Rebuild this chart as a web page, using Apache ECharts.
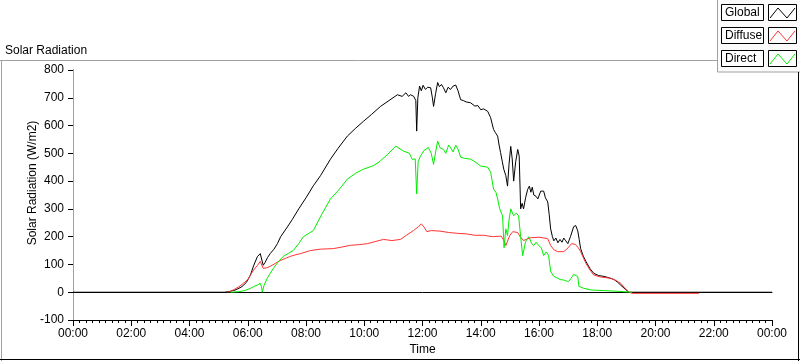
<!DOCTYPE html>
<html lang="en">
<head>
    <meta charset="UTF-8">
    <title>Solar Radiation</title>
    <script src="https://cdn.jsdelivr.net/npm/echarts@6/dist/echarts.min.js"></script>
    <style>
        body { margin: 0; background: #fff; overflow: hidden; }
    </style>
</head>
<body>
    <div style="width: 800px; height: 361px" id="container"></div>
<script>
    var dom = document.getElementById("container");
    var myChart = echarts.init(dom);
    let font = 'Liberation Sans';

    // time in hours, value in W/m2
    let seriesNames = ['Global', 'Diffuse', 'Direct'];
    let seriesColors = ['#000000', '#ff3333', '#00ee00'];
    let xTicks = [0, 2, 4, 6, 8, 10, 12, 14, 16, 18, 20, 22, 24];
    let yTicks = [-100, 0, 100, 200, 300, 400, 500, 600, 700, 800];

    let globalData = [[0,0],[5.2,0],[5.4,3],[5.6,9],[5.8,20],[5.95,35],[6.09,61],[6.2,95],[6.33,128],[6.43,139],[6.48,135],[6.53,97],[6.6,108],[6.68,125],[6.77,139],[6.9,155],[7.02,175],[7.13,200],[7.36,235],[7.53,262],[7.75,300],[8.0,340],[8.25,383],[8.5,420],[8.84,479],[9.1,518],[9.42,562],[9.7,590],[9.97,615],[10.25,640],[10.56,669],[10.85,690],[11.14,711],[11.3,705],[11.43,718],[11.52,705],[11.59,711],[11.7,705],[11.77,690],[11.8,580],[11.84,700],[11.9,742],[11.96,725],[12.02,745],[12.1,730],[12.18,738],[12.28,736],[12.34,700],[12.38,669],[12.45,715],[12.52,755],[12.58,740],[12.65,748],[12.72,736],[12.8,718],[12.88,738],[12.96,730],[13.05,742],[13.14,746],[13.22,725],[13.31,693],[13.4,690],[13.5,685],[13.65,682],[13.8,670],[13.9,672],[14.0,657],[14.1,660],[14.24,651],[14.34,628],[14.44,586],[14.5,575],[14.58,562],[14.63,530],[14.68,503],[14.74,470],[14.79,443],[14.86,420],[14.92,382],[14.97,460],[15.03,525],[15.08,480],[15.13,400],[15.2,470],[15.27,514],[15.32,490],[15.37,300],[15.42,320],[15.47,300],[15.54,340],[15.61,370],[15.67,382],[15.72,360],[15.77,378],[15.82,350],[15.9,345],[15.96,336],[16.06,364],[16.12,358],[16.16,364],[16.22,340],[16.3,325],[16.35,280],[16.4,228],[16.46,200],[16.51,185],[16.58,195],[16.65,178],[16.72,190],[16.79,180],[16.85,195],[16.92,185],[16.99,175],[17.08,200],[17.19,236],[17.26,240],[17.33,221],[17.38,190],[17.43,157],[17.52,130],[17.61,111],[17.75,85],[17.88,68],[18.05,60],[18.23,57],[18.4,52],[18.57,46],[18.7,36],[18.81,25],[18.95,12],[19.09,0],[24,0]];

    let diffuseData = [[5.3,0],[5.5,8],[5.7,20],[5.85,32],[6.0,45],[6.09,61],[6.2,80],[6.33,96],[6.43,111],[6.48,105],[6.53,86],[6.65,88],[6.77,93],[6.95,104],[7.12,114],[7.3,122],[7.46,129],[7.65,135],[7.81,139],[8.0,145],[8.15,150],[8.49,155],[8.94,157],[9.2,162],[9.53,169],[9.8,171],[10.11,175],[10.4,183],[10.66,190],[10.95,186],[11.24,190],[11.45,205],[11.69,222],[11.85,235],[11.96,246],[12.05,235],[12.15,218],[12.3,222],[12.6,220],[12.9,215],[13.2,212],[13.5,210],[13.8,205],[14.1,205],[14.4,200],[14.7,202],[14.8,185],[14.86,168],[14.92,175],[15.0,205],[15.1,218],[15.27,215],[15.35,200],[15.47,186],[15.6,192],[15.72,196],[16.0,198],[16.3,193],[16.4,168],[16.52,152],[16.64,146],[16.85,146],[17.0,160],[17.12,175],[17.25,172],[17.35,160],[17.43,146],[17.52,125],[17.61,104],[17.75,80],[17.88,62],[18.1,55],[18.47,50],[18.65,42],[18.81,32],[18.95,14],[19.1,0],[19.2,-4],[21.5,-4]];

    let directData = [[5.4,0],[5.7,2],[5.9,6],[6.09,14],[6.2,20],[6.33,26],[6.43,32],[6.47,20],[6.5,0],[6.56,25],[6.67,50],[6.77,68],[6.88,86],[7.05,110],[7.22,129],[7.4,140],[7.57,151],[7.75,175],[7.91,200],[8.1,212],[8.25,222],[8.55,282],[8.84,336],[9.1,365],[9.42,407],[9.7,428],[9.97,443],[10.3,455],[10.5,468],[10.8,496],[11.08,526],[11.35,508],[11.55,500],[11.65,478],[11.75,480],[11.8,354],[11.85,470],[11.93,490],[12.05,510],[12.2,521],[12.3,500],[12.38,460],[12.45,505],[12.52,544],[12.6,520],[12.72,514],[12.8,500],[12.9,530],[12.96,521],[13.05,505],[13.14,529],[13.22,515],[13.31,486],[13.45,482],[13.65,479],[13.8,470],[14.0,454],[14.24,450],[14.34,432],[14.44,371],[14.52,360],[14.58,336],[14.65,300],[14.75,275],[14.8,160],[14.86,228],[14.92,204],[14.97,260],[15.03,300],[15.13,275],[15.22,285],[15.3,275],[15.37,200],[15.44,132],[15.54,182],[15.65,200],[15.75,175],[15.82,168],[15.9,180],[15.99,168],[16.08,160],[16.13,157],[16.16,132],[16.25,145],[16.33,132],[16.4,75],[16.5,58],[16.64,50],[16.75,45],[16.85,44],[16.95,40],[17.02,39],[17.1,50],[17.19,64],[17.33,57],[17.37,21],[17.54,14],[17.8,8],[18.2,6],[18.6,4],[18.9,2],[19.2,0]];

    let allData = [globalData, diffuseData, directData];

    let hhmm = function (v) {
        let h = v % 24;
        return (h < 10 ? '0' : '') + h + ':00';
    };

    // legend drawn as boxed labels with a zigzag line sample, like the original panel
    let legendItems = [];
    seriesNames.forEach((n, i) => {
        let y = 4 + i * 23;
        legendItems.push(
            { type: 'rect', shape: { x: 721.5, y: y + 0.5, width: 42, height: 16 }, style: { fill: '#fff', stroke: '#000', lineWidth: 1 } },
            { type: 'text', x: 725, y: y + 9, style: { text: n, fontFamily: font, fontSize: 12, fill: '#000', verticalAlign: 'middle' } },
            { type: 'rect', shape: { x: 768.5, y: y + 0.5, width: 28, height: 16 }, style: { fill: '#fff', stroke: '#000', lineWidth: 1 } },
            { type: 'polyline', shape: { points: [[770, y + 14], [778, y + 4], [787, y + 14], [795, y + 4]] }, style: { stroke: seriesColors[i], lineWidth: 1, fill: 'none' } }
        );
    });

    var option = {
        animation: false,
        backgroundColor: '#fff',
        textStyle: { fontFamily: font },
        grid: { left: 73, right: 28, top: 70, bottom: 39 },
        xAxis: [{
            type: 'value',
            min: xTicks[0],
            max: xTicks[xTicks.length - 1],
            interval: 2,
            name: 'Time',
            nameLocation: 'middle',
            nameGap: 24,
            nameMoveOverlap: false,
            nameTextStyle: { color: '#000', fontSize: 12, fontFamily: font },
            axisLine: { onZero: false, lineStyle: { color: '#000', width: 1 } },
            axisTick: { length: 6, lineStyle: { color: '#000' } },
            minorTick: { show: true, splitNumber: 9, length: 3, lineStyle: { color: '#000' } },
            axisLabel: { margin: 8, color: '#000', fontSize: 12, formatter: hhmm },
            splitLine: { show: false }
        }, {
            type: 'value', position: 'top', min: 0, max: 24,
            axisLine: { lineStyle: { color: '#000' } },
            axisTick: { show: false }, axisLabel: { show: false }, splitLine: { show: false }
        }],
        yAxis: [{
            type: 'value',
            min: yTicks[0],
            max: yTicks[yTicks.length - 1],
            interval: 100,
            name: 'Solar Radiation (W/m2)',
            nameLocation: 'middle',
            nameGap: 34,
            nameMoveOverlap: false,
            nameTextStyle: { color: '#000', fontSize: 12, fontFamily: font, padding: [0, 0, 0, 24] },
            axisLine: { show: true, lineStyle: { color: '#000', width: 1 } },
            axisTick: { show: true, length: 5, lineStyle: { color: '#000' } },
            axisLabel: { margin: 9, color: '#000', fontSize: 12 },
            splitLine: { show: false }
        }, {
            type: 'value', position: 'right', min: -100, max: 800,
            axisLine: { show: true, lineStyle: { color: '#a0a0a0' } },
            axisTick: { show: false }, axisLabel: { show: false }, splitLine: { show: false }
        }],
        graphic: [
            { type: 'line', shape: { x1: 0, y1: 60.5, x2: 717, y2: 60.5 }, style: { stroke: '#a0a0a0', lineWidth: 1 } },
            { type: 'line', shape: { x1: 1.5, y1: 60, x2: 1.5, y2: 361 }, style: { stroke: '#a0a0a0', lineWidth: 1 } },
            { type: 'line', shape: { x1: 0, y1: 359.5, x2: 800, y2: 359.5 }, style: { stroke: '#000', lineWidth: 1 } },
            { type: 'line', shape: { x1: 798.5, y1: 72, x2: 798.5, y2: 361 }, style: { stroke: '#000', lineWidth: 1 } },
            { type: 'rect', z: -1, shape: { x: 717.5, y: -1, width: 84, height: 73 }, style: { fill: '#fbfbfb', stroke: '#a0a0a0', lineWidth: 1 } },
            { type: 'text', left: 5, top: 45, style: { text: 'Solar Radiation', fontFamily: font, fontSize: 12, fill: '#000' } }
        ].concat(legendItems),
        series: seriesNames.map((n, i) => ({
            name: n,
            type: 'line',
            data: allData[i],
            showSymbol: false,
            symbol: 'none',
            color: seriesColors[i],
            lineStyle: { color: seriesColors[i], width: 1 },
            emphasis: { disabled: true }
        }))
    };
    myChart.setOption(option);
</script>
</body>
</html>
